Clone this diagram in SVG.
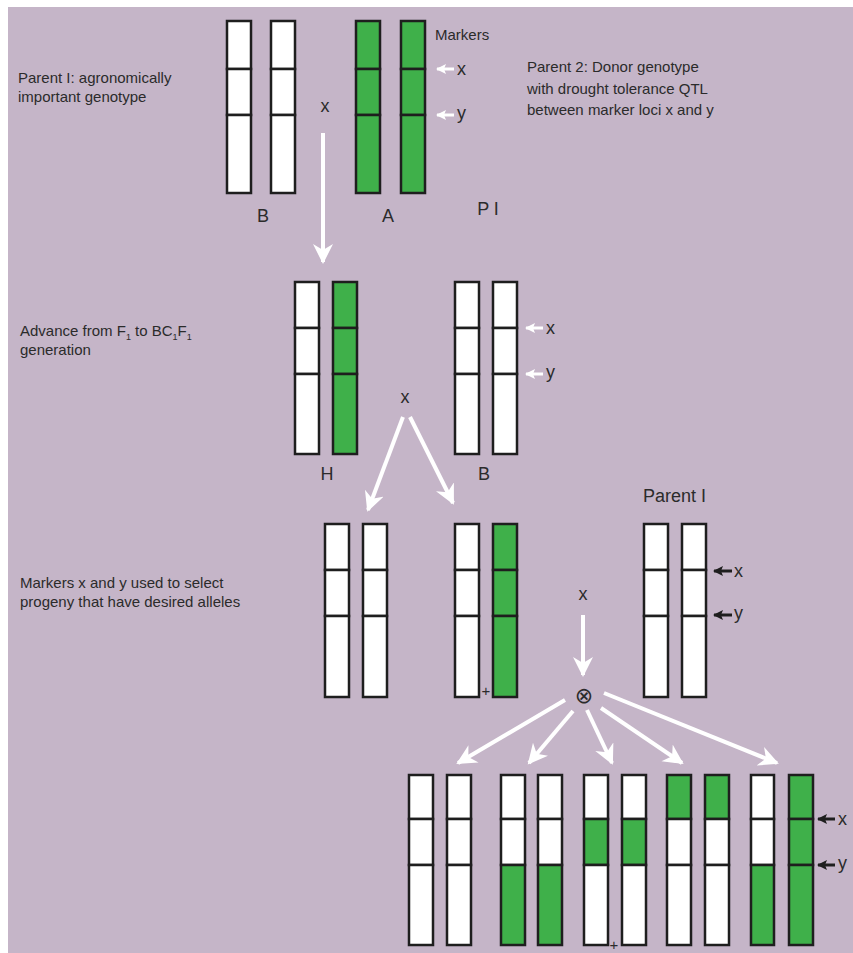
<svg xmlns="http://www.w3.org/2000/svg" width="853" height="953" viewBox="0 0 853 953">
<style>
.bg{fill:#c5b5c8}
.w{fill:#ffffff;stroke:#1e1e1e;stroke-width:2.5}
.g{fill:#3fb04a;stroke:#1e1e1e;stroke-width:2.5}
.t{font-family:"Liberation Sans",Arial,sans-serif;font-size:15px;fill:#2b2b2b}
.l{font-family:"Liberation Sans",Arial,sans-serif;font-size:18px;fill:#2b2b2b}
.sym{font-family:"DejaVu Sans",sans-serif;font-size:22px;fill:#2b2b2b}
.arr{stroke:#ffffff;stroke-width:4;fill:none;marker-end:url(#ah)}
.sw{stroke:#ffffff;stroke-width:3;fill:none;marker-end:url(#sh)}
.sb{stroke:#1e1e1e;stroke-width:3;fill:none;marker-end:url(#bh)}
</style>
<defs>
<marker id="ah" markerUnits="userSpaceOnUse" markerWidth="22" markerHeight="22" refX="18" refY="10" orient="auto">
<path d="M0,0 L20,10 L0,20 L6,10 Z" fill="#ffffff"/>
</marker>
<marker id="sh" markerUnits="userSpaceOnUse" markerWidth="12" markerHeight="12" refX="9" refY="5" orient="auto">
<path d="M0,0 L10,5 L0,10 L2,5 Z" fill="#ffffff"/>
</marker>
<marker id="bh" markerUnits="userSpaceOnUse" markerWidth="12" markerHeight="12" refX="9" refY="5" orient="auto">
<path d="M0,0 L10,5 L0,10 L2,5 Z" fill="#1e1e1e"/>
</marker>
</defs>
<rect x="0" y="0" width="853" height="953" fill="#ffffff"/>
<rect class="bg" x="8" y="7" width="845" height="946"/>

<!-- Texts -->
<g id="text-parent1">
<text class="t" x="18" y="83">Parent I: agronomically</text>
<text class="t" x="18" y="102">important genotype</text>
</g>
<g id="text-parent2">
<text class="t" x="527" y="72">Parent 2: Donor genotype</text>
<text class="t" x="527" y="94">with drought tolerance QTL</text>
<text class="t" x="527" y="115">between marker loci x and y</text>
</g>
<g id="text-markers"><text class="t" x="435" y="40">Markers</text></g>
<g id="text-advance">
<text class="t" x="20" y="336">Advance from F<tspan font-size="9" dy="4">1</tspan><tspan dy="-4"> to BC</tspan><tspan font-size="9" dy="4">1</tspan><tspan dy="-4">F</tspan><tspan font-size="9" dy="4">1</tspan></text>
<text class="t" x="20" y="355">generation</text>
</g>
<g id="text-select">
<text class="t" x="20" y="588">Markers x and y used to select</text>
<text class="t" x="20" y="607">progeny that have desired alleles</text>
</g>

<!-- Row 1 -->
<g id="p1-B">
<rect class="w" x="227" y="21" width="24" height="48"/><rect class="w" x="227" y="69" width="24" height="46"/><rect class="w" x="227" y="115" width="24" height="78"/>
<rect class="w" x="271" y="21" width="24" height="48"/><rect class="w" x="271" y="69" width="24" height="46"/><rect class="w" x="271" y="115" width="24" height="78"/>
<text class="l" x="263" y="222" text-anchor="middle">B</text>
</g>
<g id="p2-A">
<rect class="g" x="356" y="21" width="24" height="48"/><rect class="g" x="356" y="69" width="24" height="46"/><rect class="g" x="356" y="115" width="24" height="78"/>
<rect class="g" x="401" y="21" width="24" height="48"/><rect class="g" x="401" y="69" width="24" height="46"/><rect class="g" x="401" y="115" width="24" height="78"/>
<text class="l" x="388" y="222" text-anchor="middle">A</text>
</g>
<g id="p1-label"><text class="l" x="488" y="215" text-anchor="middle">P I</text></g>
<g id="cross1"><text class="l" x="325" y="112" text-anchor="middle">x</text></g>
<g id="markers1">
<text class="l" x="457" y="75">x</text>
<text class="l" x="457" y="119">y</text>
</g>

<!-- Row 2 -->
<g id="f1-H">
<rect class="w" x="295" y="282" width="24" height="46"/><rect class="w" x="295" y="328" width="24" height="46"/><rect class="w" x="295" y="374" width="24" height="80"/>
<rect class="g" x="333" y="282" width="24" height="46"/><rect class="g" x="333" y="328" width="24" height="46"/><rect class="g" x="333" y="374" width="24" height="80"/>
<text class="l" x="327" y="480" text-anchor="middle">H</text>
</g>
<g id="bc-B">
<rect class="w" x="455" y="282" width="24" height="46"/><rect class="w" x="455" y="328" width="24" height="46"/><rect class="w" x="455" y="374" width="24" height="80"/>
<rect class="w" x="493" y="282" width="24" height="46"/><rect class="w" x="493" y="328" width="24" height="46"/><rect class="w" x="493" y="374" width="24" height="80"/>
<text class="l" x="484" y="480" text-anchor="middle">B</text>
</g>
<g id="cross2"><text class="l" x="405" y="403" text-anchor="middle">x</text></g>
<g id="markers2">
<text class="l" x="546" y="334">x</text>
<text class="l" x="546" y="378">y</text>
</g>

<!-- Row 3 -->
<g id="bc1-a">
<rect class="w" x="325" y="524" width="24" height="46"/><rect class="w" x="325" y="570" width="24" height="46"/><rect class="w" x="325" y="616" width="24" height="81"/>
<rect class="w" x="363" y="524" width="24" height="46"/><rect class="w" x="363" y="570" width="24" height="46"/><rect class="w" x="363" y="616" width="24" height="81"/>
</g>
<g id="bc1-b">
<rect class="w" x="455" y="524" width="24" height="46"/><rect class="w" x="455" y="570" width="24" height="46"/><rect class="w" x="455" y="616" width="24" height="81"/>
<rect class="g" x="493" y="524" width="24" height="46"/><rect class="g" x="493" y="570" width="24" height="46"/><rect class="g" x="493" y="616" width="24" height="81"/>
<text class="t" x="486" y="696" text-anchor="middle" font-size="12">+</text>
</g>
<g id="parent1-row3">
<text class="l" x="643" y="502">Parent I</text>
<rect class="w" x="644" y="524" width="24" height="46"/><rect class="w" x="644" y="570" width="24" height="46"/><rect class="w" x="644" y="616" width="24" height="81"/>
<rect class="w" x="682" y="524" width="24" height="46"/><rect class="w" x="682" y="570" width="24" height="46"/><rect class="w" x="682" y="616" width="24" height="81"/>
<text class="l" x="734" y="577">x</text>
<text class="l" x="734" y="619">y</text>
</g>
<g id="cross3"><text class="l" x="583" y="600" text-anchor="middle">x</text></g>
<g id="self"><text class="sym" x="584" y="703" text-anchor="middle">⊗</text></g>

<!-- Row 4 -->
<g id="prog1">
<rect class="w" x="409" y="775" width="24" height="44"/><rect class="w" x="409" y="819" width="24" height="46"/><rect class="w" x="409" y="865" width="24" height="80"/>
<rect class="w" x="447" y="775" width="24" height="44"/><rect class="w" x="447" y="819" width="24" height="46"/><rect class="w" x="447" y="865" width="24" height="80"/>
</g>
<g id="prog2">
<rect class="w" x="501" y="775" width="24" height="44"/><rect class="w" x="501" y="819" width="24" height="46"/><rect class="g" x="501" y="865" width="24" height="80"/>
<rect class="w" x="538" y="775" width="24" height="44"/><rect class="w" x="538" y="819" width="24" height="46"/><rect class="g" x="538" y="865" width="24" height="80"/>
</g>
<g id="prog3">
<rect class="w" x="584" y="775" width="24" height="44"/><rect class="g" x="584" y="819" width="24" height="46"/><rect class="w" x="584" y="865" width="24" height="80"/>
<rect class="w" x="622" y="775" width="24" height="44"/><rect class="g" x="622" y="819" width="24" height="46"/><rect class="w" x="622" y="865" width="24" height="80"/>
<text class="t" x="614" y="950" text-anchor="middle" font-size="12">+</text>
</g>
<g id="prog4">
<rect class="g" x="667" y="775" width="24" height="44"/><rect class="w" x="667" y="819" width="24" height="46"/><rect class="w" x="667" y="865" width="24" height="80"/>
<rect class="g" x="705" y="775" width="24" height="44"/><rect class="w" x="705" y="819" width="24" height="46"/><rect class="w" x="705" y="865" width="24" height="80"/>
</g>
<g id="prog5">
<rect class="w" x="751" y="775" width="23" height="44"/><rect class="w" x="751" y="819" width="23" height="46"/><rect class="g" x="751" y="865" width="23" height="80"/>
<rect class="g" x="789" y="775" width="24" height="44"/><rect class="g" x="789" y="819" width="24" height="46"/><rect class="g" x="789" y="865" width="24" height="80"/>
<text class="l" x="838" y="825">x</text>
<text class="l" x="838" y="869">y</text>
</g>

<!-- Connectors -->
<g id="connectors">
<line class="arr" x1="323" y1="133" x2="323" y2="262"/>
<line class="arr" x1="403" y1="417" x2="368" y2="510"/>
<line class="arr" x1="410" y1="417" x2="453" y2="503"/>
<line class="arr" x1="583" y1="615" x2="583" y2="675"/>
<line class="arr" x1="565" y1="700" x2="458" y2="763"/>
<line class="arr" x1="573" y1="711" x2="529" y2="763"/>
<line class="arr" x1="587" y1="710" x2="612" y2="763"/>
<line class="arr" x1="601" y1="708" x2="682" y2="763"/>
<line class="arr" x1="604" y1="693" x2="777" y2="763"/>
<line class="sw" x1="454" y1="69" x2="437" y2="69"/>
<line class="sw" x1="454" y1="115" x2="437" y2="115"/>
<line class="sw" x1="543" y1="328" x2="526" y2="328"/>
<line class="sw" x1="543" y1="374" x2="526" y2="374"/>
<line class="sb" x1="732" y1="571" x2="714" y2="571"/>
<line class="sb" x1="732" y1="615" x2="714" y2="615"/>
<line class="sb" x1="835" y1="819" x2="818" y2="819"/>
<line class="sb" x1="835" y1="865" x2="818" y2="865"/>
</g>
</svg>
